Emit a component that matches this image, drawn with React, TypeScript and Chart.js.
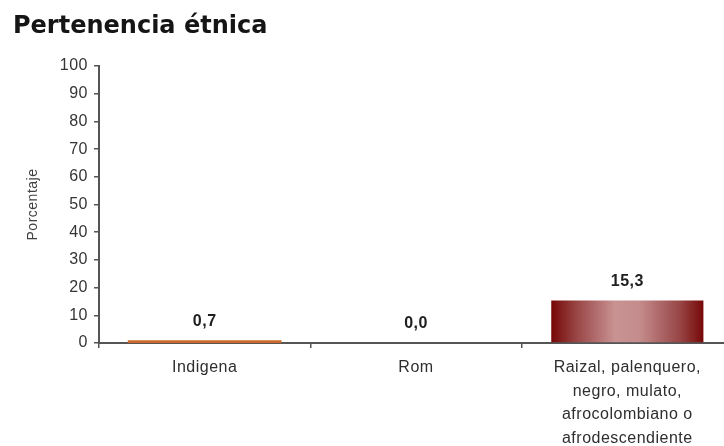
import React, { useEffect, useRef } from "react";
import { Chart, registerables } from "chart.js";

Chart.register(...registerables);

const TITLE = "Pertenencia étnica";
const Y_TITLE = "Porcentaje";
const CATEGORIES: string[][] = [
  ["Indigena"],
  ["Rom"],
  ["Raizal, palenquero,", "negro, mulato,", "afrocolombiano o", "afrodescendiente"],
];
const VALUES = [0.7, 0.0, 15.3];
const Y_MIN = 0;
const Y_MAX = 100;
const Y_STEP = 10;

const AXIS_COLOR = "#555555";
const TEXT_COLOR = "#2e2e2e";
const BAR_SOLID = "#cc6a2a";

const titleAndSpacing = {
  id: "titleAndSpacing",
  beforeDraw(chart: any) {
    const ctx = chart.ctx;
    ctx.save();
    (ctx as any).letterSpacing = "0px";
    ctx.font = "bold 24px 'DejaVu Sans', Verdana, sans-serif";
    ctx.fillStyle = "#151515";
    ctx.textAlign = "left";
    ctx.textBaseline = "alphabetic";
    ctx.fillText(TITLE, 13, 33);
    ctx.restore();
    (ctx as any).letterSpacing = "0.5px";
  },
};

const valueLabels = {
  id: "valueLabels",
  afterDatasetsDraw(chart: any) {
    const ctx = chart.ctx;
    const meta = chart.getDatasetMeta(0);
    ctx.save();
    (ctx as any).letterSpacing = "0.5px";
    ctx.font = "bold 16px 'Liberation Sans', Arial, sans-serif";
    ctx.fillStyle = "#202020";
    ctx.textAlign = "center";
    ctx.textBaseline = "middle";
    meta.data.forEach((el: any, i: number) => {
      const v = VALUES[i];
      ctx.fillText(v.toFixed(1).replace(".", ","), el.x, el.y - 19);
    });
    ctx.restore();
  },
};

export default function App() {
  const ref = useRef<HTMLCanvasElement | null>(null);
  useEffect(() => {
    if (!ref.current) return;
    const chart = new Chart(ref.current, {
      type: "bar",
      data: {
        labels: CATEGORIES,
        datasets: [
          {
            data: VALUES,
            barPercentage: 0.72,
            categoryPercentage: 1,
            borderWidth: 0,
            inflateAmount: (c: any) => (c.dataIndex === 0 ? 0.8 : "auto"),
            backgroundColor: (c: any) => {
              if (c.dataIndex !== 2) return BAR_SOLID;
              const ch = c.chart;
              const xs = ch.scales.x;
              if (!xs || xs.width === undefined) return "#a05050";
              const step = xs.getPixelForValue(1) - xs.getPixelForValue(0);
              const cx = xs.getPixelForValue(2);
              const half = (step * 0.72) / 2;
              if (!isFinite(cx) || !isFinite(half)) return "#a05050";
              const g = ch.ctx.createLinearGradient(cx - half, 0, cx + half, 0);
              g.addColorStop(0, "#760606");
              g.addColorStop(0.15, "#964040");
              g.addColorStop(0.42, "#c99393");
              g.addColorStop(0.58, "#c48c8c");
              g.addColorStop(0.85, "#974444");
              g.addColorStop(1, "#770808");
              return g;
            },
          },
        ],
      },
      options: {
        responsive: false,
        animation: false,
        layout: { padding: { left: 13, right: 0, top: 66, bottom: 0 } },
        plugins: {
          legend: { display: false },
          tooltip: { enabled: false },
          title: { display: false },
        },
        scales: {
          x: {
            offset: true,
            grid: {
              display: true,
              drawOnChartArea: false,
              drawTicks: true,
              tickLength: 5,
              color: AXIS_COLOR,
              lineWidth: 1.5,
            },
            border: { display: true, color: AXIS_COLOR, width: 2 },
            ticks: {
              color: TEXT_COLOR,
              font: { family: "'Liberation Sans', Arial, sans-serif", size: 16, lineHeight: 1.47 },
              padding: 8,
              maxRotation: 0,
              autoSkip: false,
            },
            afterFit: (s: any) => {
              s.height = 103;
            },
          },
          y: {
            min: Y_MIN,
            max: Y_MAX,
            grid: {
              display: true,
              drawOnChartArea: false,
              drawTicks: true,
              tickLength: 5,
              color: AXIS_COLOR,
              lineWidth: 1.5,
            },
            border: { display: true, color: AXIS_COLOR, width: 2 },
            ticks: {
              stepSize: Y_STEP,
              color: "#353535",
              padding: 6,
              font: { family: "'Liberation Sans', Arial, sans-serif", size: 16 },
            },
            title: {
              display: true,
              text: Y_TITLE,
              color: "#404040",
              padding: { top: 12, bottom: 0 },
              font: { family: "'Liberation Sans', Arial, sans-serif", size: 14, lineHeight: 1.2 },
            },
            afterFit: (s: any) => {
              s.width = 86;
            },
          },
        },
      },
      plugins: [titleAndSpacing, valueLabels],
    });
    return () => chart.destroy();
  }, []);

  return (
    <div
      style={{
        position: "fixed",
        left: 0,
        top: 0,
        width: 724,
        height: 446,
        overflow: "hidden",
        background: "#ffffff",
      }}
    >
      <canvas ref={ref} width={733} height={446} style={{ width: 733, height: 446, display: "block" }} />
    </div>
  );
}
